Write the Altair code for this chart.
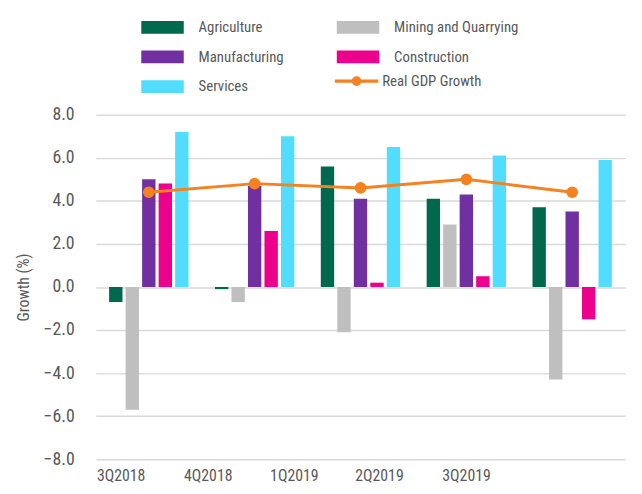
import altair as alt
import pandas as pd

quarters = ["3Q2018", "4Q2018", "1Q2019", "2Q2019", "3Q2019"]
sectors = ["Agriculture", "Mining and Quarrying", "Manufacturing", "Construction", "Services"]
agriculture = [-0.7, -0.1, 5.6, 4.1, 3.7]
mining = [-5.7, -0.7, -2.1, 2.9, -4.3]
manufacturing = [5.0, 4.7, 4.1, 4.3, 3.5]
construction = [4.8, 2.6, 0.2, 0.5, -1.5]
services = [7.2, 7.0, 6.5, 6.1, 5.9]
gdp = [4.4, 4.8, 4.6, 5.0, 4.4]

colors = {
    "Agriculture": "#00694D",
    "Mining and Quarrying": "#BFBFBF",
    "Manufacturing": "#7030A0",
    "Construction": "#EC008C",
    "Services": "#52DDFE",
}
orange = "#F58220"
FONT = "Roboto Condensed, Liberation Sans Narrow, Roboto, sans-serif"
TXT = "#595959"

rows = []
for s, vals in zip(sectors, [agriculture, mining, manufacturing, construction, services]):
    for q, v in zip(quarters, vals):
        rows.append({"quarter": q, "sector": s, "value": v})
df_bars = pd.DataFrame(rows)
df_gdp = pd.DataFrame({"quarter": quarters, "value": gdp, "series": ["Real GDP Growth"] * len(quarters)})

groupA = ["Agriculture", "Manufacturing", "Services"]
groupB = ["Mining and Quarrying", "Construction"]

label_offsets = [-28, -47, -67, -88, -107]

xenc = alt.X(
    "quarter:N",
    sort=quarters,
    scale=alt.Scale(domain=quarters, paddingInner=0.25, paddingOuter=0.125),
    axis=alt.Axis(
        title=None, domain=False, ticks=False, labelAngle=0, labelPadding=8,
        labelFontSize=16, labelFont=FONT, labelColor=TXT,
        labelOffset={
            "condition": [
                {"test": f"datum.value == '{q}'", "value": o}
                for q, o in zip(quarters[:-1], label_offsets[:-1])
            ],
            "value": label_offsets[-1],
        },
    ),
)
yenc = alt.Y(
    "value:Q",
    scale=alt.Scale(domain=[-8, 8]),
    axis=alt.Axis(
        title="Growth (%)", values=[-8, -6, -4, -2, 0, 2, 4, 6, 8], format=".1f",
        domain=False, ticks=False, labelPadding=22, labelFontSize=18, labelFont=FONT,
        labelColor=TXT, titleFont=FONT, titleFontSize=16, titleFontWeight="normal",
        titleColor=TXT, titlePadding=12, gridColor="#D9D9D9", gridWidth=1.5,
    ),
)
xoff = alt.XOffset("sector:N", scale=alt.Scale(domain=sectors, paddingInner=0.19))

rect_path = "M-1,-0.3H1V0.3H-1Z"


def bar_layer(group, lx):
    return (
        alt.Chart(df_bars)
        .transform_filter(alt.FieldOneOfPredicate(field="sector", oneOf=group))
        .mark_bar()
        .encode(
            x=xenc,
            xOffset=xoff,
            y=yenc,
            color=alt.Color(
                "sector:N",
                scale=alt.Scale(domain=group, range=[colors[g] for g in group]),
                legend=alt.Legend(
                    title=None, orient="none", legendX=lx, legendY=-110,
                    direction="vertical", symbolType=rect_path, symbolSize=1849,
                    symbolStrokeWidth=0, labelOffset=15, rowPadding=-2.5,
                    labelFont=FONT, labelFontSize=15, labelColor=TXT, labelLimit=300,
                ),
            ),
        )
    )


barsA = bar_layer(groupA, 46)
barsB = bar_layer(groupB, 244)

line = alt.Chart(df_gdp).mark_line(color=orange, strokeWidth=3).encode(x=xenc, y=yenc)
line_sym = (
    "M-1,-0.07H1V0.07H-1Z"
    "M0.22,0A0.22,0.22,0,1,1,-0.22,0A0.22,0.22,0,1,1,0.22,0Z"
)
pts = alt.Chart(df_gdp).mark_circle(size=140, opacity=1).encode(
    x=xenc,
    y=yenc,
    color=alt.Color(
        "series:N",
        scale=alt.Scale(domain=["Real GDP Growth"], range=[orange]),
        legend=alt.Legend(
            title=None, orient="none", legendX=242, legendY=-56,
            symbolType=line_sym, symbolSize=1936, symbolStrokeWidth=0,
            labelOffset=4, labelFont=FONT, labelFontSize=15, labelColor=TXT,
        ),
    ),
)

chart = (
    alt.layer(barsA, barsB, line, pts)
    .resolve_scale(color="independent")
    .resolve_legend(color="independent")
    .properties(
        width=536, height=349, autosize="none",
        padding={"left": 89, "top": 105, "right": 9, "bottom": 24},
    )
    .configure_view(stroke=None)
)

chart.save("out.html", embed_options={"renderer": "svg", "actions": False})
